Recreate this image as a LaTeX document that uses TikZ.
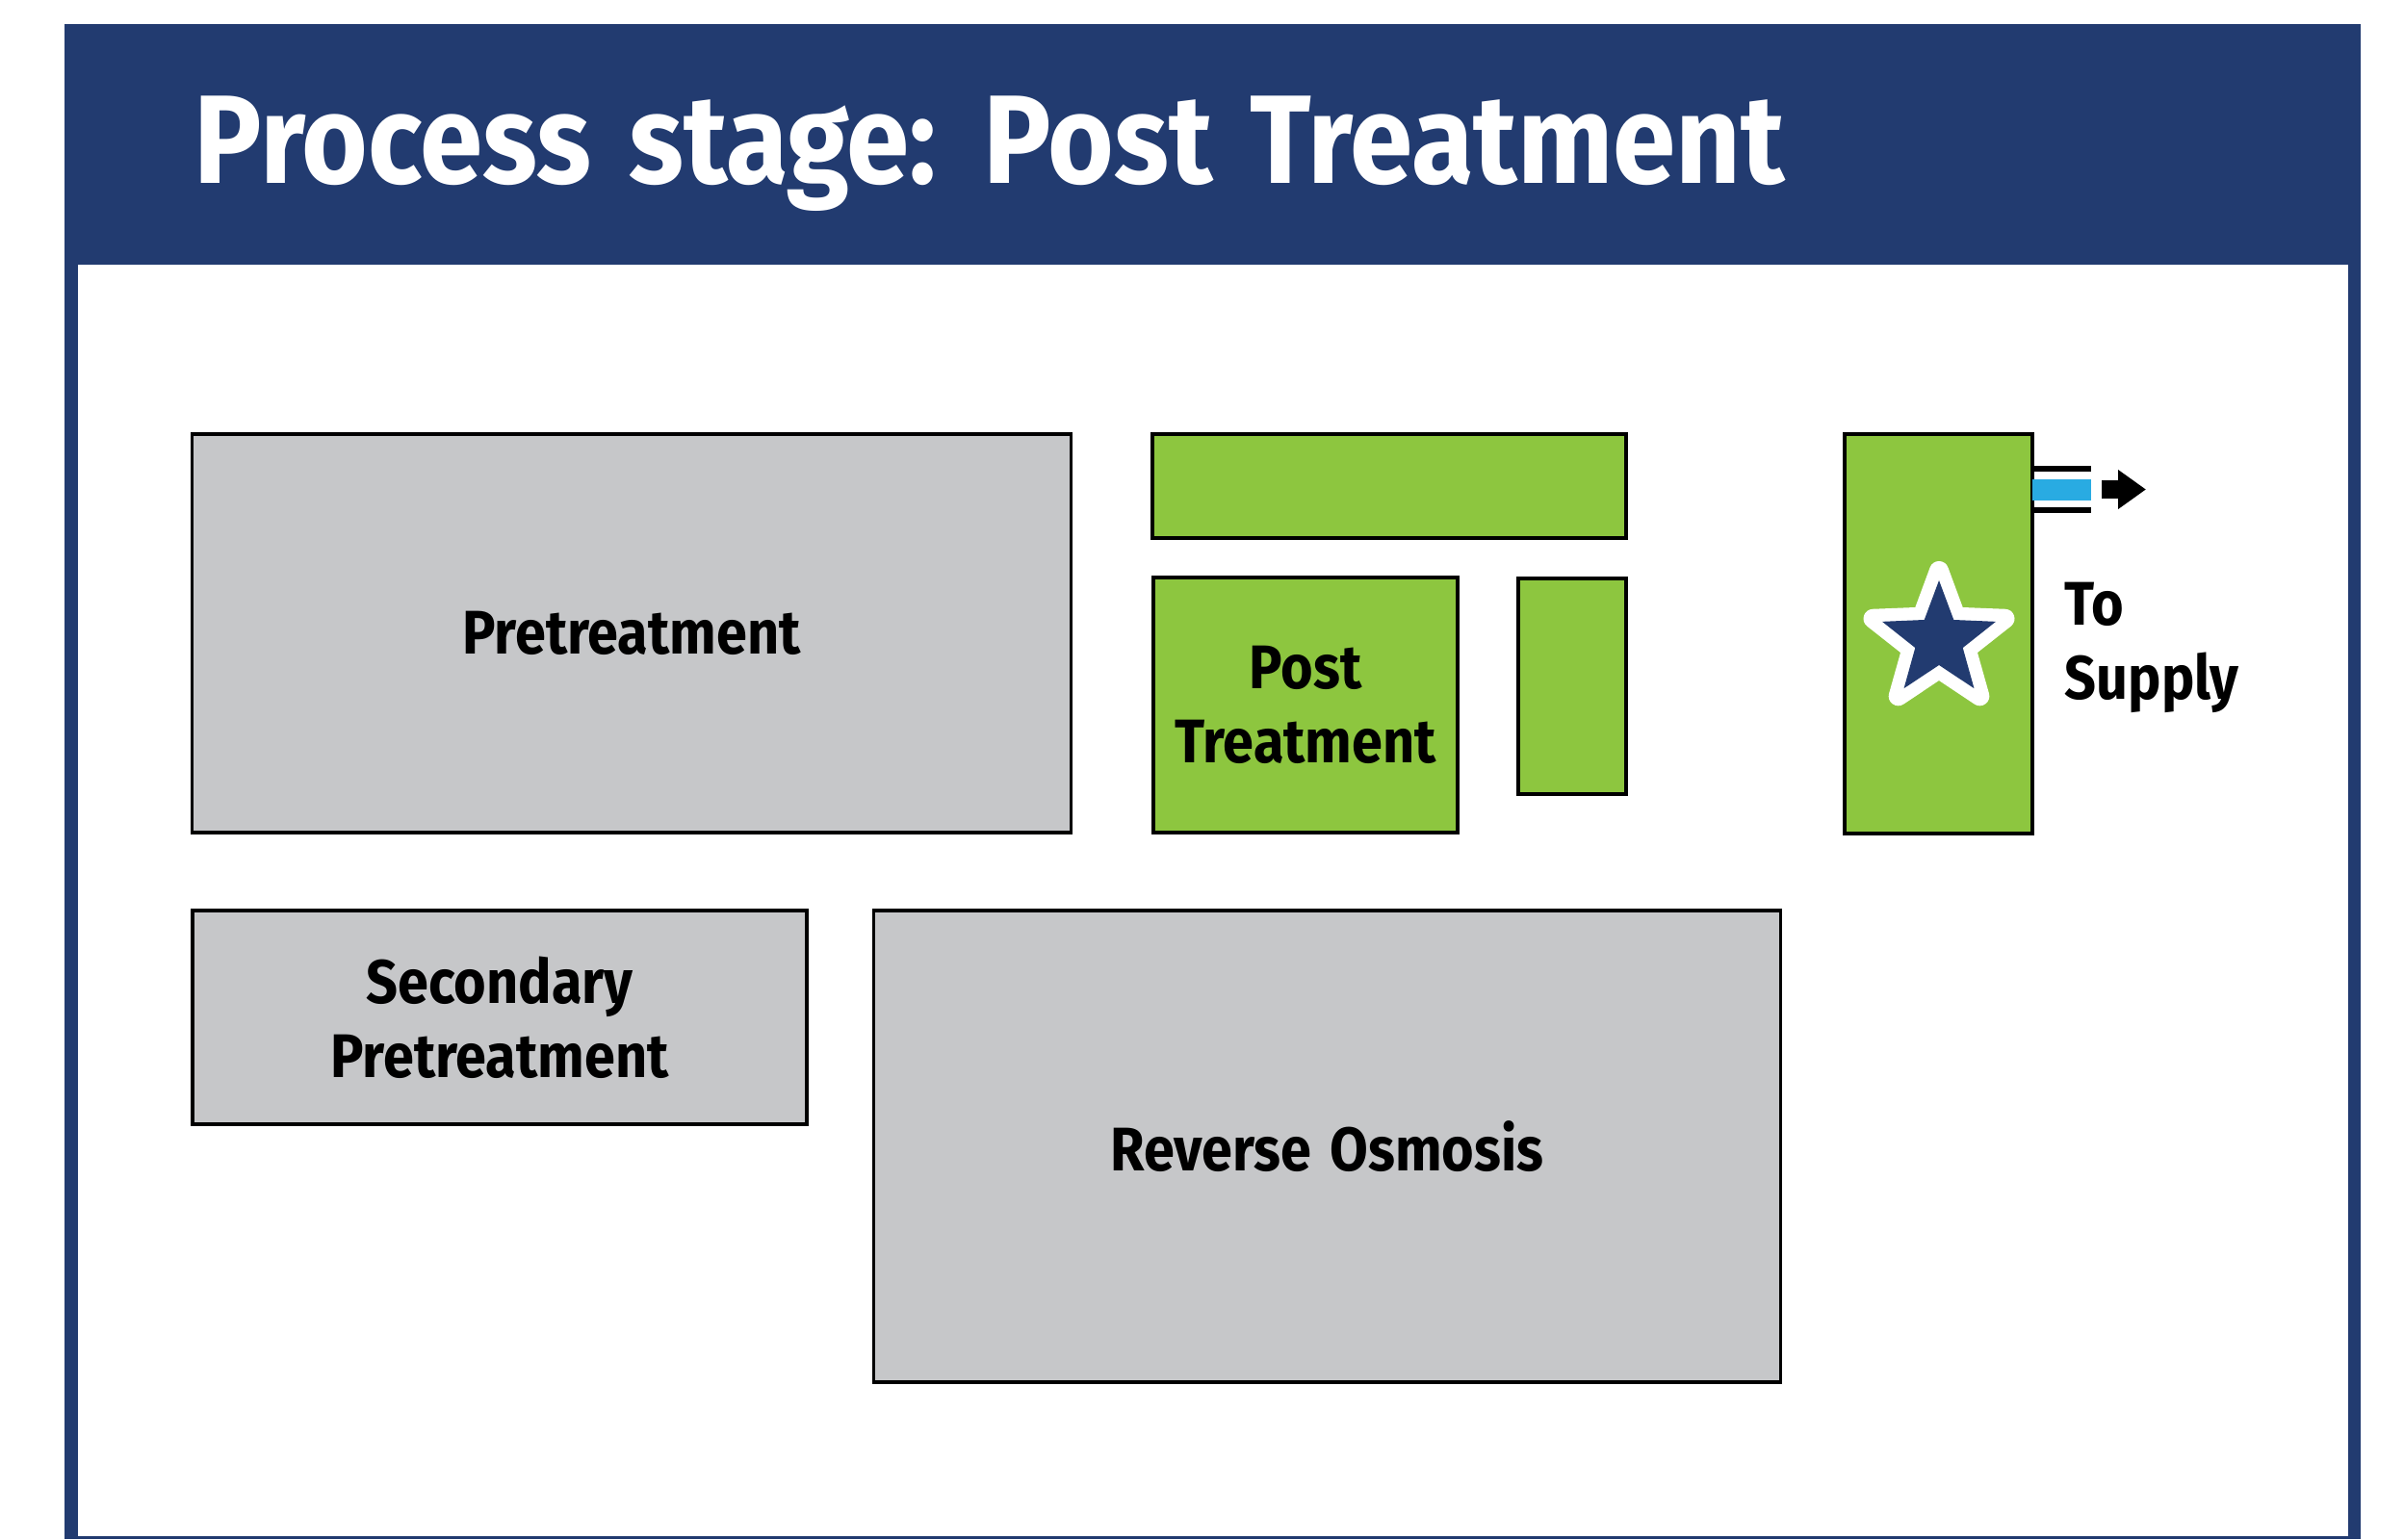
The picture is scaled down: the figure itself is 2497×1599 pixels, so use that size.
\documentclass[tikz,border=0pt]{standalone}
\usepackage{fontspec}
\setmainfont{Fira Sans}
\newfontfamily\titlefamily[FakeStretch=0.90, WordSpace=1.35]{Fira Sans}
\newfontfamily\areafamily[FakeStretch=0.90, WordSpace=1.4]{Fira Sans}
\usepackage{tikz}
\usetikzlibrary{arrows.meta}

\definecolor{stagenavy}{RGB}{34,59,112}
\definecolor{postgreen}{RGB}{141,198,63}
\definecolor{areagray}{RGB}{198,199,201}
\definecolor{pipeblue}{RGB}{41,171,226}

\newcommand{\titlefont}{\titlefamily\bfseries\fontsize{37.2}{44}\selectfont}
\newcommand{\areafont}{\areafamily\bfseries\fontsize{18.2}{21.9}\selectfont}

\begin{document}
\begin{tikzpicture}[x=0.01cm, y=-0.01cm,
    area/.style={draw=black, line width=1pt, fill=areagray, inner sep=0pt, align=center, font=\areafont},
    postarea/.style={area, fill=postgreen},
    flowarrow/.style={line width=19*0.2845pt, -{Triangle[length=29*0.2845pt, width=39*0.2845pt]}}]
    \useasboundingbox (0,0) rectangle (2497,1599);

    % frame and header
    \fill[stagenavy] (67,25) rectangle (2452,1599);
    \fill[white] (81,275) rectangle (2439,1596);
    \node[anchor=base west, inner sep=0pt, text=white, font=\titlefont] (title) at (201,190) {Process stage: Post Treatment};

    % plant areas
    \node[area, minimum width=9.12cm, minimum height=4.14cm] (pretreat) at (656,658) {Pretreatment};
    \node[area, minimum width=6.38cm, minimum height=2.22cm] (secpretreat) at (519,1057) {Secondary\\Pretreatment};
    \node[area, minimum width=9.41cm, minimum height=4.90cm] (revosmosis) at (1378.5,1191) {Reverse Osmosis};

    % post treatment
    \node[postarea, minimum width=4.92cm, minimum height=1.08cm] (postbar) at (1443,505) {};
    \node[postarea, minimum width=3.16cm, minimum height=2.65cm] (post) at (1356,732.5) {Post\\Treatment};
    \node[postarea, minimum width=1.12cm, minimum height=2.24cm] (postsmall) at (1633,713) {};
    \node[postarea, minimum width=1.95cm, minimum height=4.15cm] (tank) at (2013.5,658.5) {};

    % star
    \begin{scope}[shift={(2014,665)}]
        \filldraw[white, line width=20*0.2845pt, line join=round] (-90:72) \foreach \a in {-90,-18,54,126,198} {-- (\a:72) -- ({\a+36}:30)} -- cycle;
        \fill[stagenavy] (-90:62) \foreach \a in {-90,-18,54,126,198} {-- (\a:62) -- ({\a+36}:26)} -- cycle;
    \end{scope}

    % pipe to supply
    \fill[pipeblue] (2111,498) rectangle (2172,520);
    \draw[line width=6*0.2845pt] (2111,487) -- (2172,487);
    \draw[line width=6*0.2845pt] (2111,530) -- (2172,530);
    \coordinate (pipeend) at (2183,508.5);
    \coordinate (supply) at (2229,508.5);
    \draw[flowarrow] (pipeend) -- (supply);

    \node[anchor=west, inner sep=0pt, align=left, font=\areafont] (tosupply) at (2144,673) {To\\Supply};
\end{tikzpicture}
\end{document}
